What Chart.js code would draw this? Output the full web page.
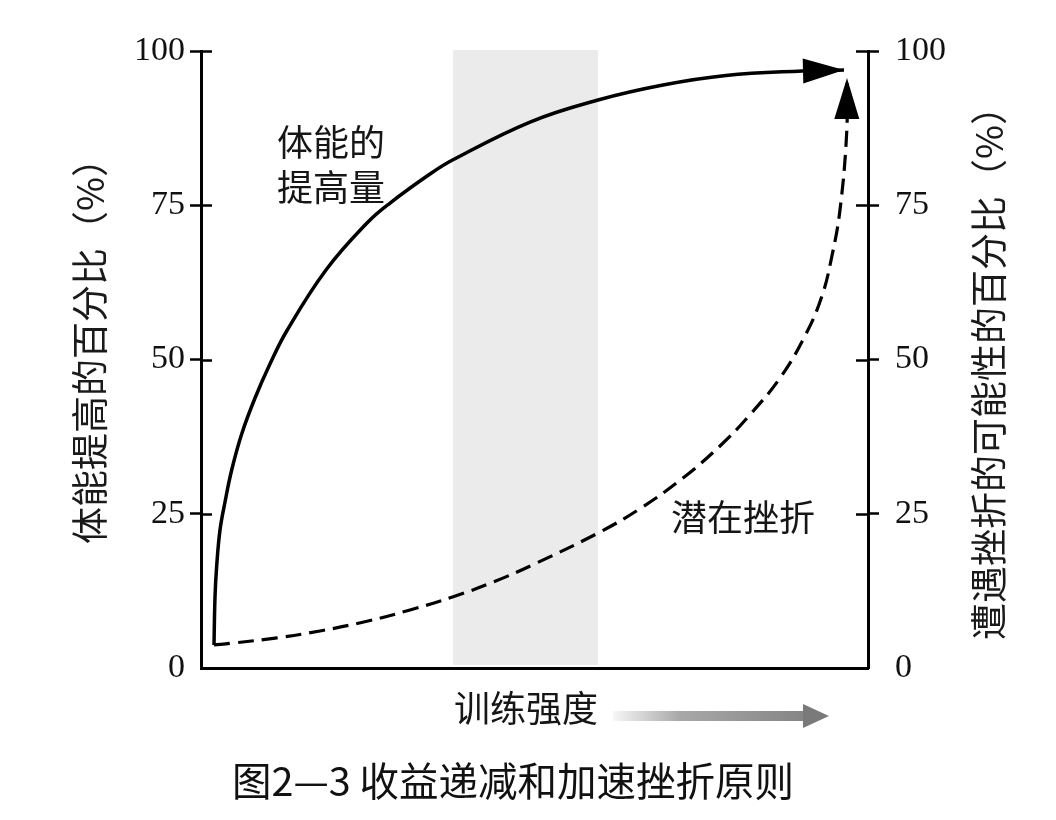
<!DOCTYPE html>
<html>
<head>
<meta charset="utf-8">
<script src="https://cdn.jsdelivr.net/npm/chart.js@4.4.1/dist/chart.umd.min.js"></script>
<style>
html,body{margin:0;padding:0;background:#fff;}
canvas{display:block;}
</style>
</head>
<body>
<canvas id="c" width="1056" height="820"></canvas>
<script>
// ---- data (x: training intensity 0–100, y: percent) ----
const intensityGain = [1.95, 2.10, 2.35, 2.85, 3.60, 4.60, 6.10, 8.10, 10.34, 12.85, 18.74, 25.04, 28.34, 34.33, 37.71, 49.33, 59.52, 69.27, 78.71, 90.10, 96.40];
const fitnessGain   = [3.73, 11.51, 16.53, 22.37, 26.90, 32.09, 37.93, 43.76, 49.27, 54.62, 64.51, 72.29, 75.36, 80.06, 82.33, 88.49, 92.06, 94.49, 96.03, 96.76, 96.92];
const intensityRisk = [1.95, 4.65, 11.39, 17.84, 25.04, 31.33, 37.71, 44.02, 50.33, 59.82, 65.97, 72.26, 77.81, 81.86, 86.81, 90.70, 93.10, 94.56, 95.80, 96.81, 96.85];
const injuryRisk    = [3.73, 4.02, 4.89, 6.00, 7.62, 9.40, 11.51, 14.02, 17.02, 22.04, 25.93, 30.79, 35.98, 40.52, 47.00, 54.13, 60.29, 66.61, 74.23, 86.87, 95.62];
const yTickValues   = [0, 25, 50, 75, 100];
const optimalZone   = [37.8, 59.5];

const leftTitle  = '体能提高的百分比（%）';
const rightTitle = '遭遇挫折的可能性的百分比（%）';
const gainLabel  = ['体能的', '提高量'];
const riskLabel  = '潜在挫折';
const xTitle     = '训练强度';
const caption    = '图2—3 收益递减和加速挫折原则';

const toPoints = (xs, ys) => xs.map((x, i) => ({x: x, y: ys[i]}));

const CJK = '"Noto Sans CJK SC", "Noto Sans", sans-serif';

const decor = {
  id: 'decor',
  beforeDatasetsDraw(chart) {
    const {ctx, chartArea: a, scales} = chart;
    const x0 = scales.x.getPixelForValue(optimalZone[0]);
    const x1 = scales.x.getPixelForValue(optimalZone[1]);
    ctx.save();
    ctx.fillStyle = '#ebebeb';
    ctx.fillRect(x0, a.top - 1, x1 - x0, a.bottom - a.top - 2);
    ctx.restore();
  },
  afterDatasetsDraw(chart) {
    const ctx = chart.ctx;
    ctx.save();
    ctx.fillStyle = '#000';
    chart.data.datasets.forEach((ds, i) => {
      const pts = chart.getDatasetMeta(i).data;
      const p = pts[pts.length - 1], q = pts[pts.length - 2];
      const ang = Math.atan2(p.y - q.y, p.x - q.x);
      const L = 41, W = 12.5;
      const c = Math.cos(ang), s = Math.sin(ang);
      const bx = p.x - L * c, by = p.y - L * s;
      ctx.beginPath();
      ctx.moveTo(p.x, p.y);
      ctx.lineTo(bx - W * s, by + W * c);
      ctx.lineTo(bx + W * s, by - W * c);
      ctx.closePath();
      ctx.fill();
    });
    ctx.restore();
  },
  afterDraw(chart) {
    const {ctx, chartArea: a, scales} = chart;
    ctx.save();
    // inner halves of the tick marks
    ctx.strokeStyle = '#000';
    ctx.lineWidth = 2.5;
    yTickValues.forEach(v => {
      if (v === 0) return;
      const pl = Math.round(scales.y.getPixelForValue(v)) + 0.5;
      const pr = Math.round(scales.y1.getPixelForValue(v)) + 0.5;
      ctx.beginPath();
      ctx.moveTo(a.left, pl); ctx.lineTo(a.left + 11, pl);
      ctx.moveTo(a.right - 12, pr); ctx.lineTo(a.right, pr);
      ctx.stroke();
    });

    ctx.fillStyle = '#161616';
    ctx.textBaseline = 'middle';
    ctx.textAlign = 'left';
    ctx.font = '36px ' + CJK;
    ctx.fillText(gainLabel[0], 277, 142);
    ctx.fillText(gainLabel[1], 277, 187);
    ctx.fillText(riskLabel, 671, 517);
    ctx.fillText(xTitle, 454, 708);

    // grey gradient arrow after the x title
    const g = ctx.createLinearGradient(613, 0, 805, 0);
    g.addColorStop(0, '#f6f6f6');
    g.addColorStop(0.35, '#a8a8a8');
    g.addColorStop(1, '#858585');
    ctx.fillStyle = g;
    ctx.fillRect(613, 711, 192, 10);
    ctx.fillStyle = '#7a7a7a';
    ctx.beginPath();
    ctx.moveTo(803, 704); ctx.lineTo(829, 716); ctx.lineTo(803, 728);
    ctx.closePath();
    ctx.fill();

    // caption
    ctx.fillStyle = '#111';
    ctx.font = '39.5px ' + CJK;
    ctx.fillText(caption, 232, 781);

    // axis titles, both reading bottom-to-top
    ctx.fillStyle = '#1a1a1a';
    ctx.font = '37px ' + CJK;
    ctx.textAlign = 'center';
    ctx.save();
    ctx.translate(90, 342);
    ctx.rotate(-Math.PI / 2);
    ctx.fillText(leftTitle, 0, 0);
    ctx.restore();
    ctx.save();
    ctx.translate(989, 364);
    ctx.rotate(-Math.PI / 2);
    ctx.fillText(rightTitle, 0, 0);
    ctx.restore();
    ctx.restore();
  }
};

const yAxis = (position, width, padding) => ({
  type: 'linear',
  position: position,
  min: 0,
  max: 100,
  afterBuildTicks: s => { s.ticks = yTickValues.map(v => ({value: v})); },
  afterFit: s => { s.width = width; },
  ticks: {
    font: {family: '"Liberation Serif", "Times New Roman", serif', size: 34},
    color: '#111',
    padding: padding
  },
  grid: {
    display: true,
    drawOnChartArea: false,
    drawTicks: true,
    tickLength: 11,
    tickWidth: 2.5,
    tickColor: c => (c.tick && c.tick.value === 0) ? 'rgba(0,0,0,0)' : '#000'
  },
  border: {display: true, color: '#000', width: 3}
});

new Chart(document.getElementById('c'), {
  type: 'scatter',
  data: {
    datasets: [
      {
        label: '体能的提高量',
        data: toPoints(intensityGain, fitnessGain),
        yAxisID: 'y',
        showLine: true,
        borderColor: '#000',
        borderWidth: 3.5,
        tension: 0.4,
        pointRadius: 0,
        fill: false
      },
      {
        label: '潜在挫折',
        data: toPoints(intensityRisk, injuryRisk),
        yAxisID: 'y1',
        showLine: true,
        borderColor: '#000',
        borderWidth: 3.2,
        borderDash: [16, 8],
        tension: 0.4,
        pointRadius: 0,
        fill: false
      }
    ]
  },
  options: {
    responsive: false,
    devicePixelRatio: 1,
    animation: false,
    events: [],
    layout: {padding: {top: 51, left: 0, right: 0, bottom: 0}},
    plugins: {legend: {display: false}, tooltip: {enabled: false}, title: {display: false}},
    scales: {
      x: {
        type: 'linear',
        min: 0,
        max: 100,
        afterFit: s => { s.height = 152; },
        ticks: {display: false},
        grid: {display: false, drawTicks: false},
        border: {display: true, color: '#000', width: 3}
      },
      y: yAxis('left', 201, 5),
      y1: yAxis('right', 188, 16)
    }
  },
  plugins: [decor]
});
</script>
</body>
</html>
